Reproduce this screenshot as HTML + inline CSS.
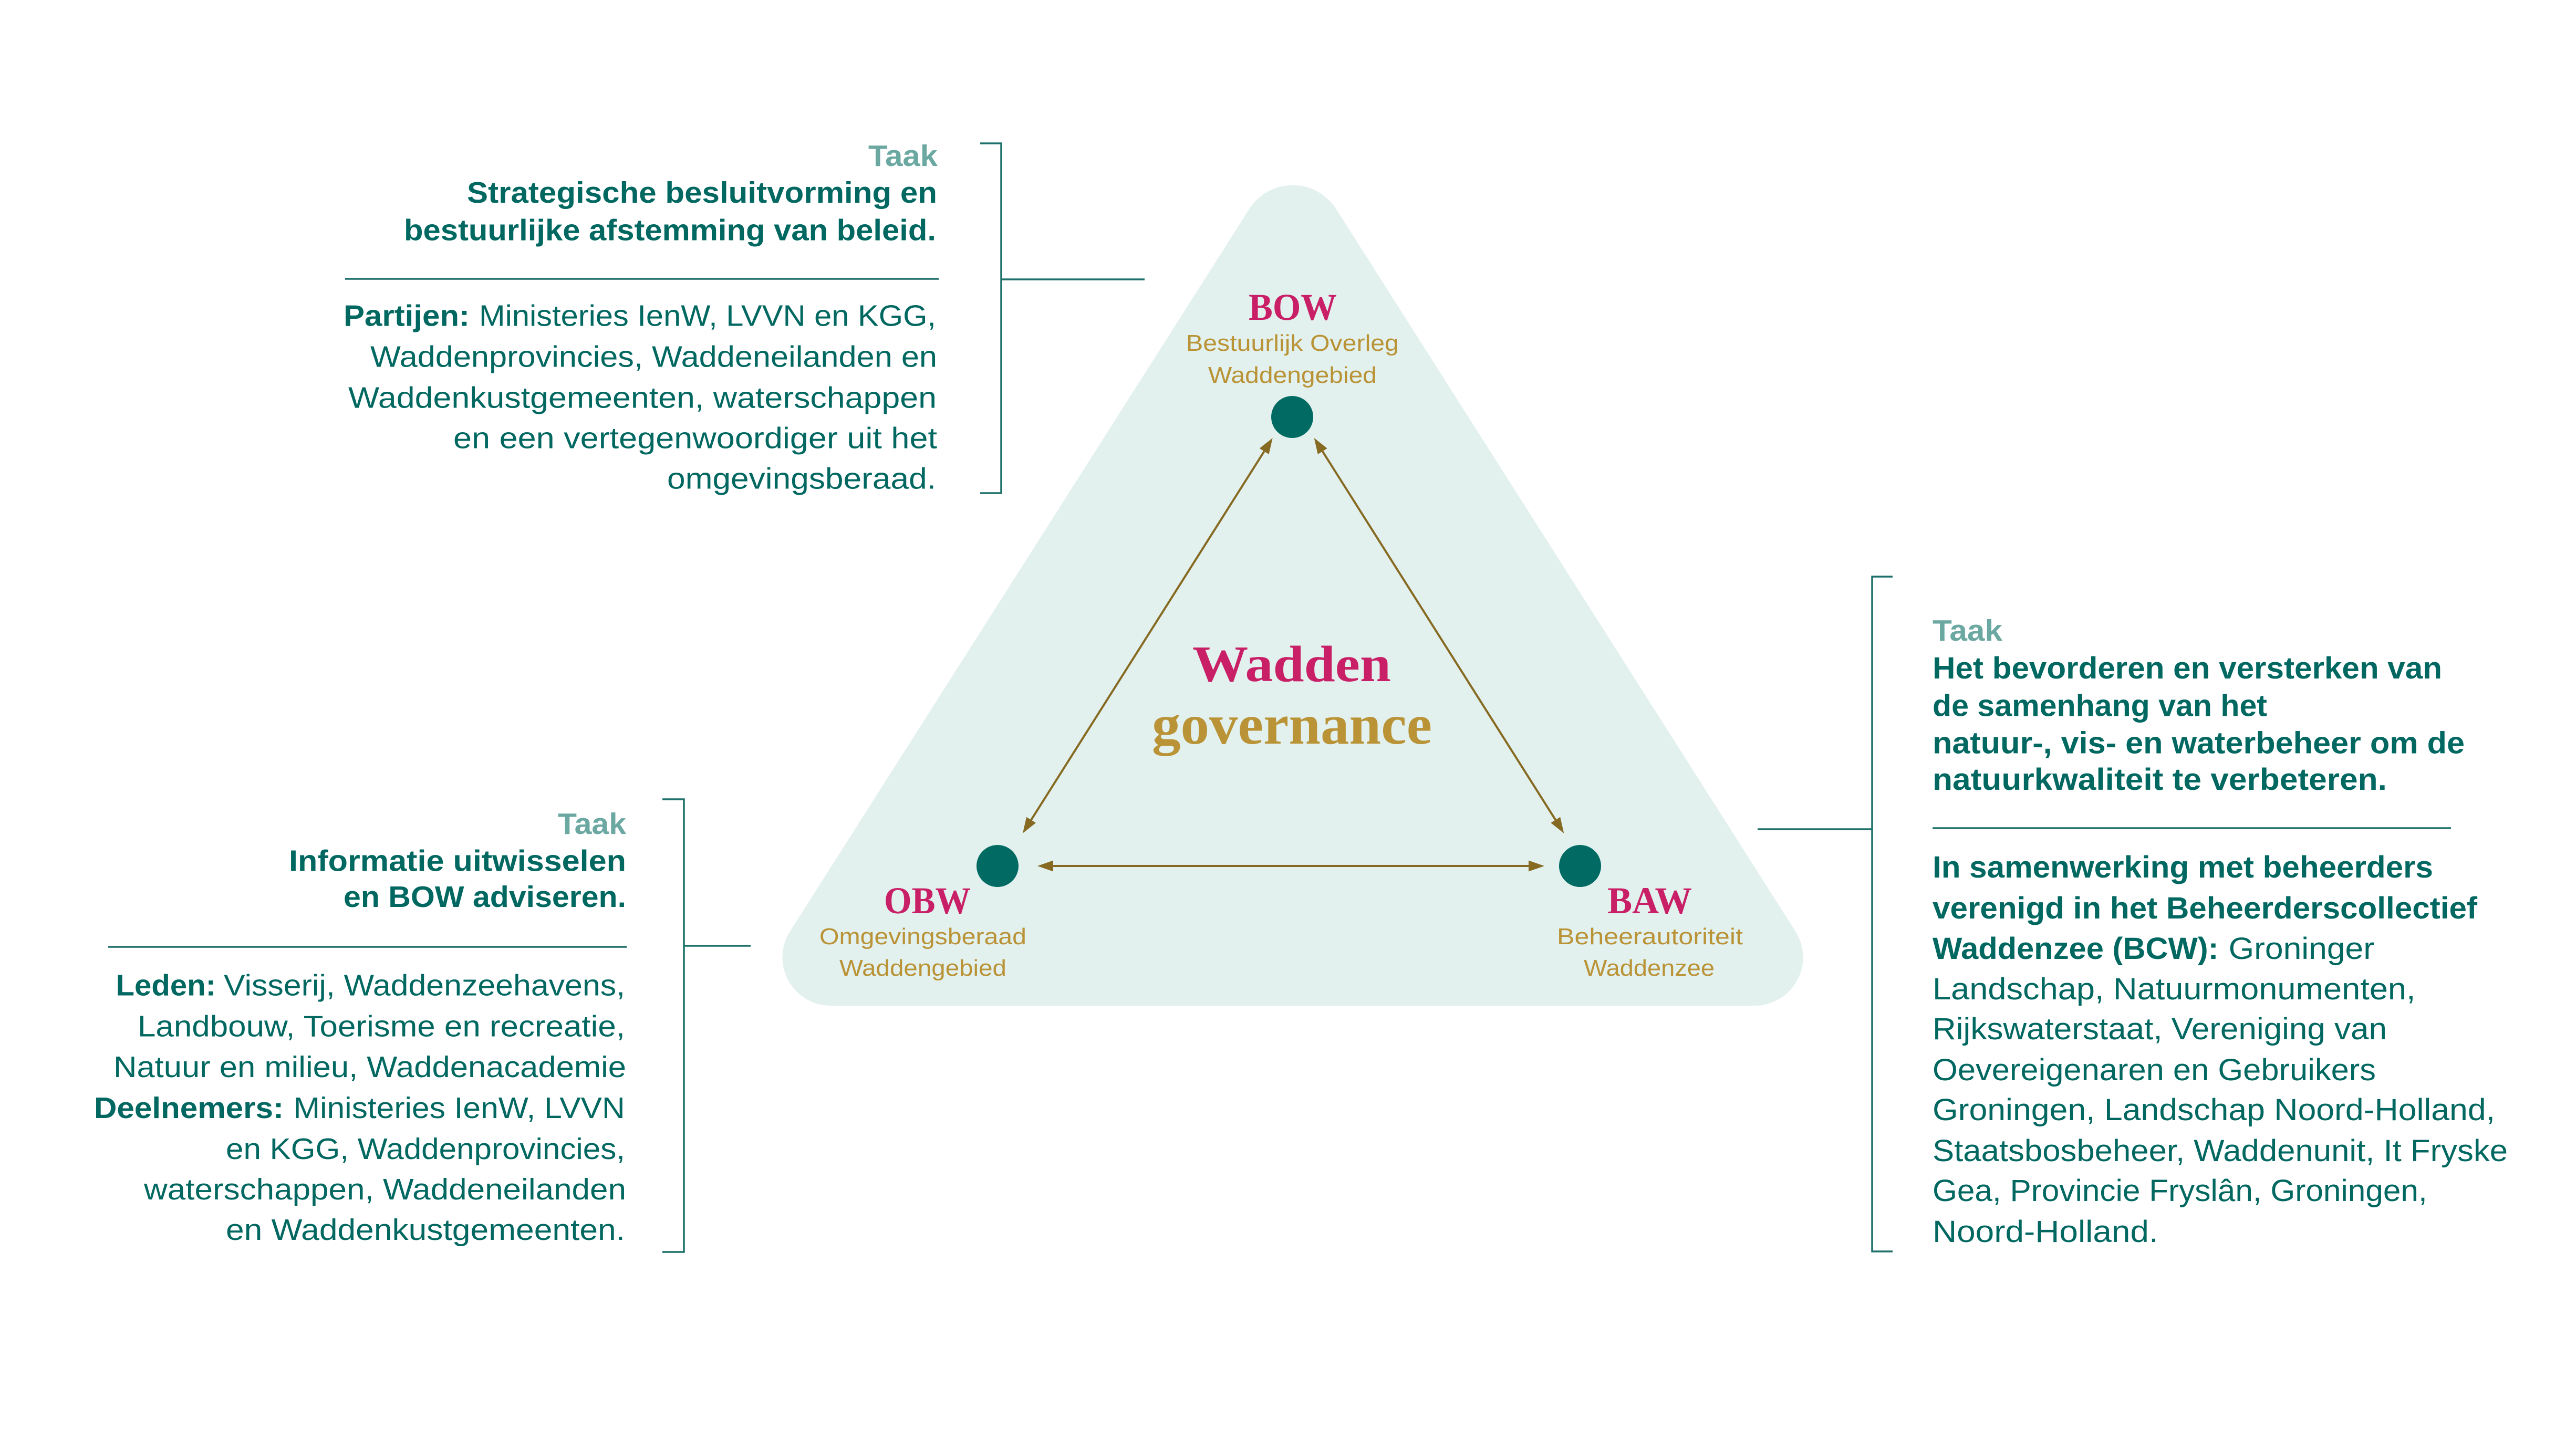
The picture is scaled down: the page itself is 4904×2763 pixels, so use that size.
<!DOCTYPE html>
<html>
<head>
<meta charset="utf-8">
<style>
html,body{margin:0;padding:0;background:#ffffff;}
svg{display:block;}
.b{font-family:"Liberation Sans",sans-serif;font-size:57px;fill:#006860;}
.r{font-family:"Liberation Sans",sans-serif;font-size:58px;fill:#006860;}
.bd{font-weight:bold;}
.tk{font-family:"Liberation Sans",sans-serif;font-size:57px;font-weight:bold;fill:#6BA8A1;}
.sf{font-family:"Liberation Serif",serif;font-weight:bold;fill:#C81F66;}
.gd{font-family:"Liberation Sans",sans-serif;font-size:44px;fill:#B99336;}
.ln{stroke:#1E706A;stroke-width:3.5;fill:none;}
</style>
</head>
<body>
<svg width="4904" height="2763" viewBox="0 0 4904 2763" xmlns="http://www.w3.org/2000/svg">
<rect x="0" y="0" width="4904" height="2763" fill="#ffffff"/>

<!-- Triangle -->
<path d="M2378.3 398 A98 98 0 0 1 2543.7 398 L3418.1 1773.6 A92 92 0 0 1 3340.5 1915 L1581.5 1915 A92 92 0 0 1 1503.9 1773.6 Z" fill="#E2F0EE"/>

<!-- Arrows -->
<g stroke="#866A22" stroke-width="4" fill="none">
<line x1="2406.7" y1="859.4" x2="1963.0" y2="1561.3"/>
<line x1="2517.7" y1="859.4" x2="2961.3" y2="1561.3"/>
<line x1="2005" y1="1649" x2="2910" y2="1649"/>
</g>
<g fill="#866A22">
<polygon points="2422.7,834 2415.6,865.0 2397.8,853.8"/>
<polygon points="1947,1586.7 1971.9,1566.9 1954.1,1555.7"/>
<polygon points="2501.7,834 2526.6,853.8 2508.8,865.0"/>
<polygon points="2977.3,1586.7 2970.2,1555.7 2952.4,1566.9"/>
<polygon points="1975,1649 2005,1638.5 2005,1659.5"/>
<polygon points="2940,1649 2910,1638.5 2910,1659.5"/>
</g>

<!-- Nodes -->
<circle cx="2460" cy="794" r="40" fill="#006A63"/>
<circle cx="1899" cy="1649" r="40" fill="#006A63"/>
<circle cx="3008" cy="1649" r="40" fill="#006A63"/>

<!-- Node labels -->
<text class="sf" x="2377" y="609" font-size="72" textLength="168" lengthAdjust="spacingAndGlyphs">BOW</text>
<text class="gd" x="2258" y="668" textLength="405" lengthAdjust="spacingAndGlyphs">Bestuurlijk Overleg</text>
<text class="gd" x="2300" y="729" textLength="321" lengthAdjust="spacingAndGlyphs">Waddengebied</text>

<text class="sf" x="1683" y="1739" font-size="72" textLength="165" lengthAdjust="spacingAndGlyphs">OBW</text>
<text class="gd" x="1560" y="1798" textLength="394" lengthAdjust="spacingAndGlyphs">Omgevingsberaad</text>
<text class="gd" x="1598" y="1858" textLength="318" lengthAdjust="spacingAndGlyphs">Waddengebied</text>

<text class="sf" x="3060" y="1739" font-size="72" textLength="161" lengthAdjust="spacingAndGlyphs">BAW</text>
<text class="gd" x="2964" y="1798" textLength="354" lengthAdjust="spacingAndGlyphs">Beheerautoriteit</text>
<text class="gd" x="3015" y="1858" textLength="249" lengthAdjust="spacingAndGlyphs">Waddenzee</text>

<!-- Center title -->
<text class="sf" x="2270" y="1297" font-size="97" textLength="378" lengthAdjust="spacingAndGlyphs">Wadden</text>
<text class="sf" x="2193" y="1416" font-size="108" style="fill:#B99336" textLength="533" lengthAdjust="spacingAndGlyphs">governance</text>

<!-- Top-left block -->
<text class="tk" x="1653" y="316" textLength="132" lengthAdjust="spacingAndGlyphs">Taak</text>
<text class="b bd" x="889" y="386" textLength="895" lengthAdjust="spacingAndGlyphs">Strategische besluitvorming en</text>
<text class="b bd" x="769" y="457.6" textLength="1013" lengthAdjust="spacingAndGlyphs">bestuurlijke afstemming van beleid.</text>
<line class="ln" x1="657" y1="531" x2="1787" y2="531"/>
<text class="b bd" x="654" y="620.5" textLength="240" lengthAdjust="spacingAndGlyphs">Partijen:</text>
<text class="b" x="912" y="620.5" textLength="870" lengthAdjust="spacingAndGlyphs">Ministeries IenW, LVVN en KGG,</text>
<text class="b" x="705" y="698.6" textLength="1079" lengthAdjust="spacingAndGlyphs">Waddenprovincies, Waddeneilanden en</text>
<text class="b" x="663" y="776.7" textLength="1120" lengthAdjust="spacingAndGlyphs">Waddenkustgemeenten, waterschappen</text>
<text class="b" x="863" y="853.5" textLength="921" lengthAdjust="spacingAndGlyphs">en een vertegenwoordiger uit het</text>
<text class="b" x="1270" y="930.5" textLength="512" lengthAdjust="spacingAndGlyphs">omgevingsberaad.</text>
<path class="ln" d="M1866 273 H1906 V939 H1866"/>
<line class="ln" x1="1906" y1="532" x2="2179" y2="532"/>

<!-- Left-bottom block -->
<text class="tk" x="1062" y="1588" textLength="130" lengthAdjust="spacingAndGlyphs">Taak</text>
<text class="b bd" x="550" y="1658.6" textLength="642" lengthAdjust="spacingAndGlyphs">Informatie uitwisselen</text>
<text class="b bd" x="654" y="1727" textLength="538" lengthAdjust="spacingAndGlyphs">en BOW adviseren.</text>
<line class="ln" x1="206" y1="1803" x2="1193" y2="1803"/>
<text class="b bd" x="220.5" y="1895.5" textLength="190.5" lengthAdjust="spacingAndGlyphs">Leden:</text>
<text class="b" x="426" y="1895.5" textLength="764" lengthAdjust="spacingAndGlyphs">Visserij, Waddenzeehavens,</text>
<text class="b" x="262" y="1973.4" textLength="928" lengthAdjust="spacingAndGlyphs">Landbouw, Toerisme en recreatie,</text>
<text class="b" x="216" y="2051" textLength="976" lengthAdjust="spacingAndGlyphs">Natuur en milieu, Waddenacademie</text>
<text class="b bd" x="179" y="2129" textLength="361" lengthAdjust="spacingAndGlyphs">Deelnemers:</text>
<text class="b" x="558.7" y="2129" textLength="631" lengthAdjust="spacingAndGlyphs">Ministeries IenW, LVVN</text>
<text class="b" x="430" y="2207" textLength="760" lengthAdjust="spacingAndGlyphs">en KGG, Waddenprovincies,</text>
<text class="b" x="274" y="2284" textLength="918" lengthAdjust="spacingAndGlyphs">waterschappen, Waddeneilanden</text>
<text class="b" x="430" y="2361" textLength="760" lengthAdjust="spacingAndGlyphs">en Waddenkustgemeenten.</text>
<path class="ln" d="M1261 1522 H1302 V2384 H1261"/>
<line class="ln" x1="1302" y1="1801" x2="1429" y2="1801"/>

<!-- Right block -->
<text class="tk" x="3679" y="1220" font-size="58" textLength="133" lengthAdjust="spacingAndGlyphs">Taak</text>
<text class="r bd" x="3679" y="1292" textLength="970" lengthAdjust="spacingAndGlyphs">Het bevorderen en versterken van</text>
<text class="r bd" x="3679" y="1363.5" textLength="637" lengthAdjust="spacingAndGlyphs">de samenhang van het</text>
<text class="r bd" x="3679" y="1434.5" textLength="1013" lengthAdjust="spacingAndGlyphs">natuur-, vis- en waterbeheer om de</text>
<text class="r bd" x="3679" y="1504" textLength="865" lengthAdjust="spacingAndGlyphs">natuurkwaliteit te verbeteren.</text>
<line class="ln" x1="3679" y1="1577" x2="4666" y2="1577"/>
<text class="r bd" x="3679" y="1671" textLength="953" lengthAdjust="spacingAndGlyphs">In samenwerking met beheerders</text>
<text class="r bd" x="3679" y="1749" textLength="1037" lengthAdjust="spacingAndGlyphs">verenigd in het Beheerderscollectief</text>
<text class="r bd" x="3679" y="1826" textLength="544.5" lengthAdjust="spacingAndGlyphs">Waddenzee (BCW):</text>
<text class="r" x="4242.6" y="1826" textLength="277.4" lengthAdjust="spacingAndGlyphs">Groninger</text>
<text class="r" x="3679" y="1903" textLength="919.6" lengthAdjust="spacingAndGlyphs">Landschap, Natuurmonumenten,</text>
<text class="r" x="3679" y="1979" textLength="865" lengthAdjust="spacingAndGlyphs">Rijkswaterstaat, Vereniging van</text>
<text class="r" x="3679" y="2057" textLength="844" lengthAdjust="spacingAndGlyphs">Oevereigenaren en Gebruikers</text>
<text class="r" x="3679" y="2133" textLength="1071" lengthAdjust="spacingAndGlyphs">Groningen, Landschap Noord-Holland,</text>
<text class="r" x="3679" y="2211" textLength="1095" lengthAdjust="spacingAndGlyphs">Staatsbosbeheer, Waddenunit, It Fryske</text>
<text class="r" x="3679" y="2287" textLength="941.7" lengthAdjust="spacingAndGlyphs">Gea, Provincie Fryslân, Groningen,</text>
<text class="r" x="3679" y="2365" textLength="429.7" lengthAdjust="spacingAndGlyphs">Noord-Holland.</text>
<path class="ln" d="M3603 1098 H3564 V2383 H3603"/>
<line class="ln" x1="3346" y1="1579" x2="3564" y2="1579"/>
</svg>
</body>
</html>
